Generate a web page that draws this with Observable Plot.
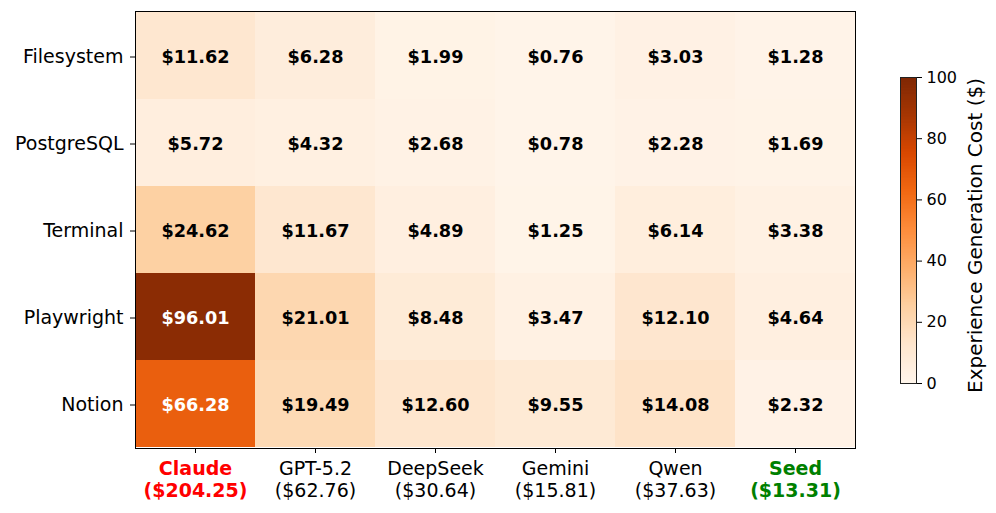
<!DOCTYPE html>
<html><head><meta charset="utf-8">
<script src="https://cdn.jsdelivr.net/npm/d3@7"></script>
<script src="https://cdn.jsdelivr.net/npm/@observablehq/plot@0.6"></script>
<style>
body{margin:0;background:#fff;}
#wrap{position:relative;width:996px;height:513px;font-family:"DejaVu Sans",sans-serif;}
#wrap svg{position:absolute;top:0;}
</style></head><body><div id="wrap"></div>
<script>
const models = ["Claude", "GPT-5.2", "DeepSeek", "Gemini", "Qwen", "Seed"];
const totals = [204.25, 62.76, 30.64, 15.81, 37.63, 13.31];
const servers = ["Filesystem", "PostgreSQL", "Terminal", "Playwright", "Notion"];
const claude = [11.62, 5.72, 24.62, 96.01, 66.28];
const gpt = [6.28, 4.32, 11.67, 21.01, 19.49];
const deepseek = [1.99, 2.68, 4.89, 8.48, 12.60];
const gemini = [0.76, 0.78, 1.25, 3.47, 9.55];
const qwen = [3.03, 2.28, 6.14, 12.10, 14.08];
const seed = [1.28, 1.69, 3.38, 4.64, 2.32];
const colorTicks = [0, 20, 40, 60, 80, 100];
const oranges = ["#fff5eb","#fee6ce","#fdd0a2","#fdae6b","#fd8d3c","#f16913","#d94801","#a63603","#7f2704"];

const seriesByModel = [claude, gpt, deepseek, gemini, qwen, seed];
const cells = [];
models.forEach((m, i) => servers.forEach((s, j) => cells.push({model: m, server: s, value: seriesByModel[i][j]})));

const colorScale = {type: "linear", domain: oranges.map((_, i) => i * 100 / 8), range: oranges, interpolate: "rgb"};
const labelFor = m => `${m}\n($${totals[models.indexOf(m)].toFixed(2)})`;
const xAxisCommon = {tickSize: 5, tickPadding: 5, tickFormat: labelFor, lineHeight: 1.2, fontSize: 19, label: null};

const main = Plot.plot({
  width: 996, height: 513,
  marginLeft: 135, marginRight: 141, marginTop: 11, marginBottom: 65,
  style: {fontFamily: "'DejaVu Sans', sans-serif", fontSize: "19px", color: "#000", background: "transparent"},
  x: {domain: models, padding: 0, label: null},
  y: {domain: servers, padding: 0, label: null},
  color: colorScale,
  marks: [
    Plot.cell(cells, {x: "model", y: "server", fill: "value"}),
    Plot.text(cells, {filter: d => d.value > 50, x: "model", y: "server", text: d => "$" + d.value.toFixed(2), fill: "white", fontWeight: "bold", fontSize: 17.7, dy: 1}),
    Plot.text(cells, {filter: d => d.value <= 50, x: "model", y: "server", text: d => "$" + d.value.toFixed(2), fill: "black", fontWeight: "bold", fontSize: 17.7, dy: 1}),
    Plot.frame({stroke: "black", strokeWidth: 1}),
    Plot.axisY({tickSize: 5, tickPadding: 7, fontSize: 19, label: null, dy: 1}),
    Plot.axisX({...xAxisCommon, ticks: models.filter(m => m !== "Claude" && m !== "Seed")}),
    Plot.axisX({...xAxisCommon, ticks: ["Claude"], fill: "red", fontWeight: "bold"}),
    Plot.axisX({...xAxisCommon, ticks: ["Seed"], fill: "green", fontWeight: "bold"})
  ]
});

const cbSteps = d3.range(0, 100, 0.5);
const bar = Plot.plot({
  width: 96, height: 513,
  marginLeft: 0, marginRight: 80, marginTop: 77, marginBottom: 130,
  style: {fontFamily: "'DejaVu Sans', sans-serif", fontSize: "16px", color: "#000", background: "transparent"},
  x: {domain: [0, 1], axis: null},
  y: {domain: [0, 100], label: null},
  color: colorScale,
  marks: [
    Plot.rect(cbSteps, {x1: 0, x2: 1, y1: d => d, y2: d => Math.min(d + 0.8, 100), fill: d => d + 0.25}),
    Plot.frame({stroke: "#222", strokeWidth: 1}),
    Plot.axisY({anchor: "right", ticks: colorTicks, tickSize: 5, tickPadding: 5, fontSize: 16, label: null}),
    Plot.text(["Experience Generation Cost ($)"], {frameAnchor: "right", textAnchor: "middle", lineAnchor: "middle", rotate: -90, dx: 59, dy: 5, fontSize: 20, fill: "black"})
  ]
});

const wrap = document.getElementById("wrap");
main.style.left = "0px";
bar.style.left = "900px";
wrap.appendChild(main);
wrap.appendChild(bar);
</script>
</body></html>
